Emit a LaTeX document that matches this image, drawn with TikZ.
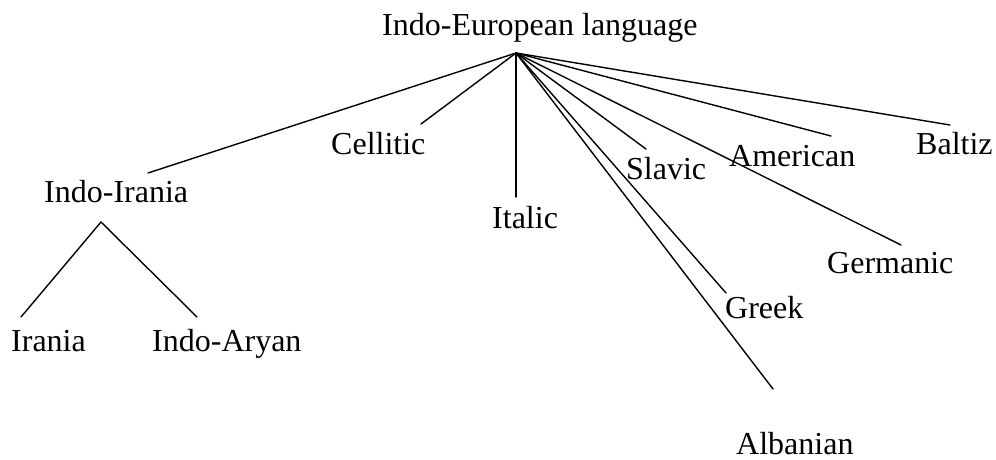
\documentclass[tikz,border=0pt]{standalone}
\usepackage{fontspec}
\setmainfont{Liberation Serif}
\begin{document}
\begin{tikzpicture}[x=1pt,y=-1pt,
  lang/.style={anchor=base west,inner sep=0pt,font=\fontsize{32}{38}\selectfont},
  branch/.style={line width=1.4pt,line cap=round}]
\useasboundingbox (0,0) rectangle (996,459);
% language names
\node[lang] (ie) at (382,35)  {Indo-European language};
\node[lang] (ii) at (44,202)  {Indo-Irania};
\node[lang] (ir) at (11,351)  {Irania};
\node[lang] (ia) at (152,351) {Indo-Aryan};
\node[lang] (ce) at (331,154) {Cellitic};
\node[lang] (it) at (492,228) {Italic};
\node[lang] (sl) at (626,179) {Slavic};
\node[lang] (gr) at (725,318) {Greek};
\node[lang] (al) at (736,454) {Albanian};
\node[lang] (am) at (729,166) {American};
\node[lang] (ba) at (916,154) {Baltiz};
\node[lang] (ge) at (827,273) {Germanic};
% branch points and branch ends
\coordinate (root) at (516,53);
\coordinate (iiE) at (148,173);
\coordinate (ceE) at (421,124);
\coordinate (itE) at (516,197);
\coordinate (slE) at (646,149);
\coordinate (grE) at (726,293);
\coordinate (alE) at (773,389);
\coordinate (amE) at (831,136);
\coordinate (geE) at (901,245);
\coordinate (baE) at (950,125);
\coordinate (iiTop) at (101,222);
\coordinate (irE) at (21,317);
\coordinate (iaE) at (197,317);
% branches from the root
\foreach \e in {iiE,ceE,itE,slE,grE,alE,amE,geE,baE}
  \draw[branch] (root) -- (\e);
% Indo-Iranian split
\draw[branch] (irE) -- (iiTop) -- (iaE);
\end{tikzpicture}
\end{document}
